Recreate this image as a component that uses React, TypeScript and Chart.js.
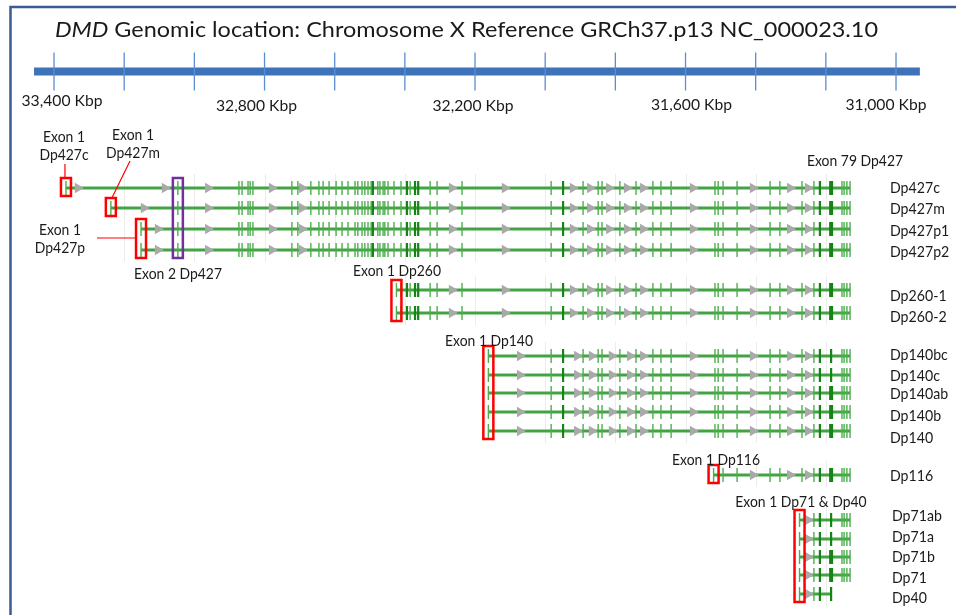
import { useEffect, useRef } from "react";
import { Chart, registerables } from "chart.js";

Chart.register(...registerables);

// ---------------- data ----------------
const TITLE_GENE = "DMD";
const TITLE_REST = " Genomic location: Chromosome X Reference GRCh37.p13 NC_000023.10";

const AXIS_START_KBP = 33457;
const AXIS_END_KBP = 30932;
const AXIS_TICK_KBP = [33400, 33200, 33000, 32800, 32600, 32400, 32200, 32000, 31800, 31600, 31400, 31200, 31000];
const AXIS_LABEL_KBP = [33400, 32800, 32200, 31600, 31000];
const AXIS_LABELS = ["33,400 Kbp", "32,800 Kbp", "32,200 Kbp", "31,600 Kbp", "31,000 Kbp"];
const GRID_KBP = [33200, 33000, 32800, 32600, 32400, 32200, 32000, 31800, 31600, 31400, 31200];

const TRANSCRIPTS = [
  "Dp427c", "Dp427m", "Dp427p1", "Dp427p2",
  "Dp260-1", "Dp260-2",
  "Dp140bc", "Dp140c", "Dp140ab", "Dp140b", "Dp140",
  "Dp116",
  "Dp71ab", "Dp71a", "Dp71b", "Dp71", "Dp40",
];
// first (promoter-specific) exon of each transcript, Kbp
const EXON1_KBP = [
  33366, 33238, 33152, 33152,
  32424, 32424,
  32162, 32162, 32162, 32162, 32162,
  31520,
  31275, 31275, 31275, 31275, 31275,
];
// range of shared exons used by each transcript, Kbp
const SHARED_FROM_KBP = [
  33047, 33047, 33047, 33047,
  32411, 32411,
  31983, 31983, 31983, 31983, 31983,
  31493,
  31234, 31234, 31234, 31234, 31234,
];
const SHARED_TO_KBP = [
  31131, 31131, 31131, 31131,
  31131, 31131,
  31131, 31131, 31131, 31131, 31131,
  31131,
  31131, 31131, 31131, 31131, 31185,
];
const SHARED_EXONS_KBP = [
  33047, 32873, 32864, 32847, 32841, 32833, 32722, 32705, 32668, 32645,
  32633, 32616, 32596, 32579, 32562, 32542, 32534, 32522, 32514, 32505,
  32496, 32491, 32477, 32471, 32462, 32457, 32448, 32431, 32411, 32394,
  32385, 32371, 32362, 32328, 32308, 32237, 31983, 31949, 31892, 31849,
  31838, 31787, 31741, 31693, 31670, 31641, 31516, 31507, 31493, 31453,
  31359, 31331, 31268, 31234, 31217, 31185, 31154, 31148, 31140, 31131,
];
const DARK_EXONS_KBP = [32491, 32394, 32371, 32362, 31949, 31217];
const WIDE_EXON_KBP = 31185;
const WITHOUT_WIDE_EXON = ["Dp140bc", "Dp140c", "Dp71ab", "Dp71a", "Dp40"];

// direction arrows inside introns, Kbp
const ARROWS_DP427_SHARED = [32961, 32779, 32693, 32266, 32115, 31921, 31872, 31818, 31767, 31721, 31579, 31408, 31302, 31251];
const ARROWS_DP427C = [33332, 33084, ...ARROWS_DP427_SHARED];
const ARROWS_DP427M = [33144, ...ARROWS_DP427_SHARED];
const ARROWS_DP427P = [33104, ...ARROWS_DP427_SHARED];
const ARROWS_DP260 = [32266, 32115, 31921, 31872, 31818, 31767, 31721, 31579, 31408, 31302, 31251];
const ARROWS_DP140 = [32072, 31909, 31867, 31810, 31758, 31721, 31579, 31408, 31302, 31251];
const ARROWS_DP116 = [31408, 31302, 31251];
const ARROWS_DP71 = [31251];
const TRANSCRIPT_ARROWS = [
  ARROWS_DP427C, ARROWS_DP427M, ARROWS_DP427P, ARROWS_DP427P,
  ARROWS_DP260, ARROWS_DP260,
  ARROWS_DP140, ARROWS_DP140, ARROWS_DP140, ARROWS_DP140, ARROWS_DP140,
  ARROWS_DP116,
  ARROWS_DP71, ARROWS_DP71, ARROWS_DP71, ARROWS_DP71, ARROWS_DP71,
];

// highlighted exons: kbp, first row, last row
const BOX_KBP = [33366, 33238, 33152, 33047, 32424, 32162, 31520, 31275];
const BOX_FIRST_ROW = [0, 1, 2, 0, 4, 6, 11, 12];
const BOX_LAST_ROW = [0, 1, 3, 3, 5, 10, 11, 16];
const BOX_PURPLE = [false, false, false, true, false, false, false, false];

const ANNOTATION_TEXT = [
  ["Exon 1", "Dp427c"],
  ["Exon 1", "Dp427m"],
  ["Exon 1", "Dp427p"],
  ["Exon 2 Dp427"],
  ["Exon 1 Dp260"],
  ["Exon 1 Dp140"],
  ["Exon 1 Dp116"],
  ["Exon 1 Dp71 & Dp40"],
  ["Exon 79 Dp427"],
];

// ---------------- layout ----------------
const W = 956;
const H = 615;
const X_MIN_KBP = 30829;
const X_MAX_KBP = 33554;
const AXIS_Y = 71.5;
const AXIS_LABEL_SHIFT = [8, -8, -2, 6, -10];
const AXIS_LABEL_Y = [101, 106, 106, 105, 105];
const ROW_Y = [188, 208, 229, 250, 290, 313, 356, 375, 393, 412, 431, 475, 520, 539, 557, 575, 594];
const LABEL_Y = [188, 209, 231, 252, 296, 317, 355, 376, 394, 416, 438, 476, 516, 537, 557, 578, 598];
const GROUPS = [[0, 3], [4, 5], [6, 10], [11, 11], [12, 16]];
const ANNOTATION_POS = [
  [64, 137], [133, 135], [60, 230], [178, 274], [397, 271], [489, 341], [716, 460], [801, 502], [855, 161],
];

const FONT = 'Lato, "Noto Sans", "DejaVu Sans", sans-serif';
const LINE_GREEN = "#42A342";
const EXON_GREEN = "#4DAE4D";
const DARK_GREEN = "#158315";
const ARROW_GREY = "#A9A9A9";
const AXIS_BLUE = "#3E73BA";
const TICK_BLUE = "#5B8DD3";
const TEXT = "#1a1a1a";

function drawText(ctx: CanvasRenderingContext2D, s: string, x: number, y: number, size: number, align: string, sx: number, italic = false) {
  ctx.save();
  ctx.font = `${italic ? "italic " : ""}${size}px ${FONT}`;
  ctx.textBaseline = "middle";
  ctx.textAlign = "left";
  const w = ctx.measureText(s).width * sx;
  const left = align === "center" ? x - w / 2 : x;
  ctx.translate(left, y);
  ctx.scale(sx, 1);
  ctx.fillText(s, 0, 0);
  ctx.restore();
  return w;
}

function measure(ctx: CanvasRenderingContext2D, s: string, size: number, italic = false) {
  ctx.save();
  ctx.font = `${italic ? "italic " : ""}${size}px ${FONT}`;
  const w = ctx.measureText(s).width;
  ctx.restore();
  return w;
}

export default function App() {
  const ref = useRef<HTMLCanvasElement>(null);

  useEffect(() => {
    const canvas = ref.current;
    if (!canvas) return;

    const lineSets: any[] = TRANSCRIPTS.map((_, i) => ({
      data: [
        { x: EXON1_KBP[i], y: ROW_Y[i] },
        { x: SHARED_TO_KBP[i], y: ROW_Y[i] },
      ],
      showLine: true,
      borderColor: LINE_GREEN,
      borderWidth: 3,
      pointRadius: 0,
      clip: false,
      order: 10,
    }));

    const normal: any[] = [];
    const dark: any[] = [];
    const wide: any[] = [];
    const arrows: any[] = [];
    TRANSCRIPTS.forEach((name, i) => {
      const y = ROW_Y[i];
      normal.push({ x: EXON1_KBP[i], y });
      SHARED_EXONS_KBP.forEach((k) => {
        if (k > SHARED_FROM_KBP[i] || k < SHARED_TO_KBP[i]) return;
        if (k === WIDE_EXON_KBP) {
          if (WITHOUT_WIDE_EXON.includes(name)) dark.push({ x: k, y });
          else wide.push({ x: k, y });
        } else if (DARK_EXONS_KBP.includes(k)) dark.push({ x: k, y });
        else normal.push({ x: k, y });
      });
      TRANSCRIPT_ARROWS[i].forEach((k) => {
        if (k < EXON1_KBP[i] && k > SHARED_TO_KBP[i]) arrows.push({ x: k, y });
      });
    });

    const datasets: any[] = [
      {
        data: [
          { x: AXIS_START_KBP, y: AXIS_Y },
          { x: AXIS_END_KBP, y: AXIS_Y },
        ],
        showLine: true,
        borderColor: AXIS_BLUE,
        borderWidth: 8,
        pointRadius: 0,
        clip: false,
        order: 12,
      },
      {
        data: AXIS_TICK_KBP.map((k) => ({ x: k, y: AXIS_Y })),
        showLine: false,
        pointStyle: "line",
        pointRotation: 90,
        pointRadius: 19,
        pointBorderColor: TICK_BLUE,
        pointBorderWidth: 1.3,
        clip: false,
        order: 11,
      },
      ...lineSets,
      {
        data: arrows,
        showLine: false,
        pointStyle: "triangle",
        pointRotation: 90,
        pointRadius: 6,
        pointBackgroundColor: ARROW_GREY,
        pointBorderColor: ARROW_GREY,
        pointBorderWidth: 0,
        clip: false,
        order: 4,
      },
      {
        data: normal,
        showLine: false,
        pointStyle: "line",
        pointRotation: 90,
        pointRadius: 7,
        pointBorderColor: EXON_GREEN,
        pointBorderWidth: 1.4,
        clip: false,
        order: 3,
      },
      {
        data: dark,
        showLine: false,
        pointStyle: "line",
        pointRotation: 90,
        pointRadius: 7,
        pointBorderColor: DARK_GREEN,
        pointBorderWidth: 2.2,
        clip: false,
        order: 2,
      },
      {
        data: wide,
        showLine: false,
        pointStyle: "line",
        pointRotation: 90,
        pointRadius: 7,
        pointBorderColor: DARK_GREEN,
        pointBorderWidth: 4,
        clip: false,
        order: 1,
      },
    ];

    const gridPlugin = {
      id: "groupGrid",
      beforeDatasetsDraw(chart: any) {
        const { ctx, scales } = chart;
        const xs = scales.x;
        const ys = scales.y;
        ctx.save();
        ctx.strokeStyle = "#ECECEC";
        ctx.lineWidth = 1;
        GROUPS.forEach(([a, b]) => {
          let start = -Infinity;
          for (let r = a; r <= b; r++) start = Math.max(start, EXON1_KBP[r]);
          const end = SHARED_TO_KBP[a];
          const top = ys.getPixelForValue(ROW_Y[a]) - 14;
          const bot = ys.getPixelForValue(ROW_Y[b]) + 12;
          GRID_KBP.forEach((k) => {
            if (k > start || k < end) return;
            const px = Math.round(xs.getPixelForValue(k)) + 0.5;
            ctx.beginPath();
            ctx.moveTo(px, top);
            ctx.lineTo(px, bot);
            ctx.stroke();
          });
        });
        ctx.restore();
      },
    };

    const overlayPlugin = {
      id: "overlay",
      afterDraw(chart: any) {
        const { ctx, scales } = chart;
        const xs = scales.x;
        const ys = scales.y;
        ctx.save();

        // frame
        ctx.strokeStyle = "#3A5C93";
        ctx.lineWidth = 2.5;
        ctx.beginPath();
        ctx.moveTo(10.5, H + 2);
        ctx.lineTo(10.5, 7);
        ctx.lineTo(W + 2, 7);
        ctx.stroke();

        // boxes
        const boxes = BOX_KBP.map((k, i) => {
          const cx = xs.getPixelForValue(k);
          const top = ys.getPixelForValue(ROW_Y[BOX_FIRST_ROW[i]]) - 10;
          const bot = ys.getPixelForValue(ROW_Y[BOX_LAST_ROW[i]]) + 8;
          return { cx, top, bot };
        });
        boxes.forEach((b, i) => {
          ctx.strokeStyle = BOX_PURPLE[i] ? "#7030A0" : "#FF0000";
          ctx.lineWidth = 2.5;
          ctx.strokeRect(b.cx - 5, b.top, 10, b.bot - b.top);
        });

        // connectors from labels to boxes
        ctx.strokeStyle = "#FF0000";
        ctx.lineWidth = 1.2;
        ctx.beginPath();
        ctx.moveTo(boxes[0].cx - 1, 164);
        ctx.lineTo(boxes[0].cx - 1, boxes[0].top);
        ctx.moveTo(130, 161);
        ctx.lineTo(boxes[1].cx + 1, boxes[1].top);
        ctx.moveTo(97, 238);
        ctx.lineTo(boxes[2].cx - 5, 238);
        ctx.stroke();

        ctx.fillStyle = TEXT;

        // title
        const tSize = 21.5;
        const w1 = measure(ctx, TITLE_GENE, tSize, true);
        const w2 = measure(ctx, TITLE_REST, tSize);
        const tsx = 823 / (w1 + w2);
        let tx = 55;
        tx += drawText(ctx, TITLE_GENE, tx, 30, tSize, "left", tsx, true);
        drawText(ctx, TITLE_REST, tx, 30, tSize, "left", tsx);

        // axis labels
        const aSize = 15;
        const asx = 81 / measure(ctx, AXIS_LABELS[0], aSize);
        AXIS_LABEL_KBP.forEach((k, i) => {
          drawText(ctx, AXIS_LABELS[i], xs.getPixelForValue(k) + AXIS_LABEL_SHIFT[i], AXIS_LABEL_Y[i], aSize, "center", asx);
        });

        // row labels
        const rSize = 16;
        const rsx = (46 + 62) / (measure(ctx, "Dp427c", rSize) + measure(ctx, "Dp140ab", rSize));
        TRANSCRIPTS.forEach((name, i) => {
          drawText(ctx, name, i >= 12 ? 892 : 890, ys.getPixelForValue(LABEL_Y[i]), rSize, "left", rsx);
        });

        // annotations
        const nSize = 15;
        const nsx = 88 / measure(ctx, "Exon 1 Dp260", nSize);
        ANNOTATION_TEXT.forEach((lines, i) => {
          const [ax, ay] = ANNOTATION_POS[i];
          lines.forEach((l, j) => drawText(ctx, l, ax, ay + j * 18, nSize, "center", nsx));
        });

        ctx.restore();
      },
    };

    const chart = new Chart(canvas, {
      type: "scatter",
      data: { datasets },
      options: {
        animation: false,
        responsive: false,
        events: [],
        layout: { padding: 0, autoPadding: false },
        plugins: { legend: { display: false }, tooltip: { enabled: false } },
        scales: {
          x: { type: "linear", reverse: true, min: X_MIN_KBP, max: X_MAX_KBP, display: false },
          y: { type: "linear", reverse: true, min: 0, max: H, display: false },
        },
      } as any,
      plugins: [gridPlugin, overlayPlugin],
    });

    return () => chart.destroy();
  }, []);

  return (
    <div style={{ position: "absolute", left: 0, top: 0, width: W, height: H, background: "#fff" }}>
      <canvas ref={ref} width={W} height={H} style={{ display: "block" }} />
    </div>
  );
}
